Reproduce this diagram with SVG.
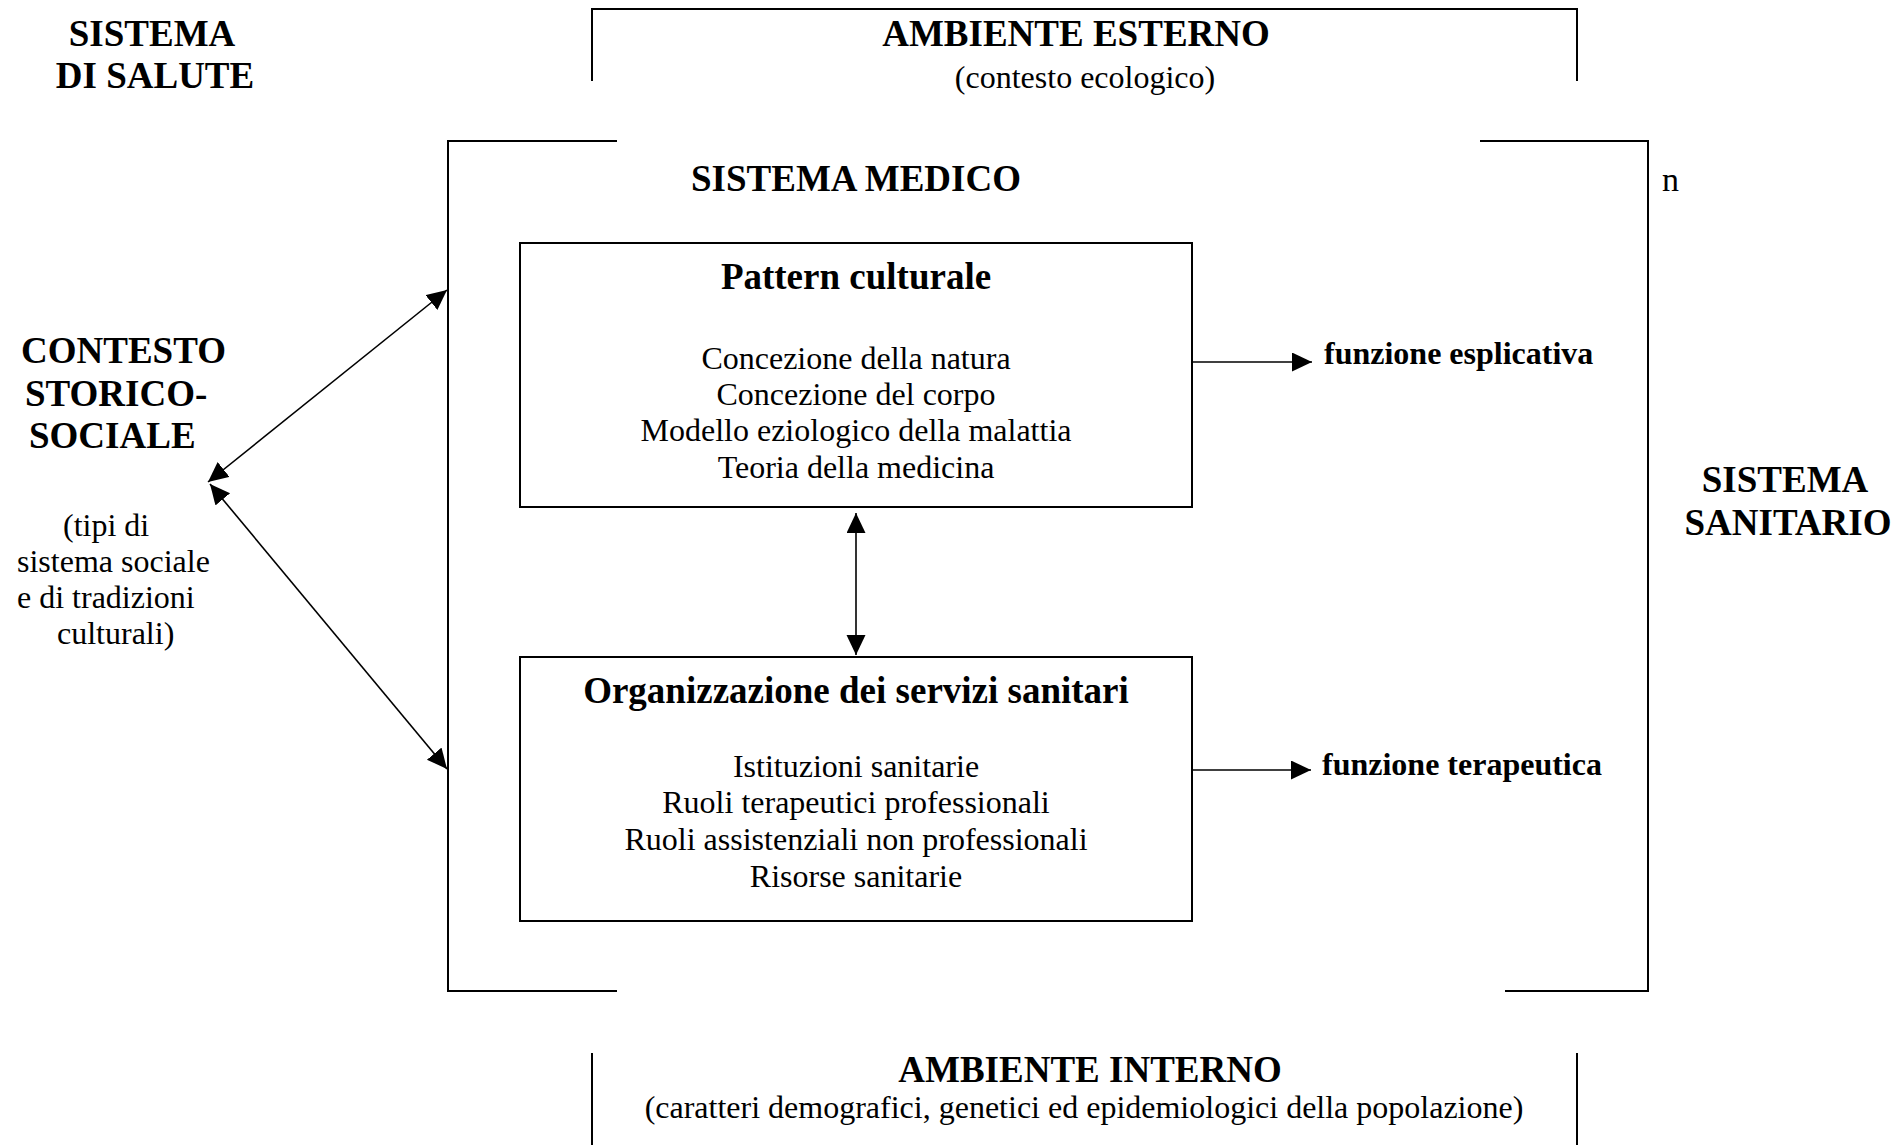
<svg xmlns="http://www.w3.org/2000/svg" width="1898" height="1145" viewBox="0 0 1898 1145">
<style>
text{font-family:"Liberation Serif","Times New Roman",serif;fill:#000}
.b{font-weight:bold;font-size:37px}
.r{font-size:32px}
.fb{font-weight:bold;font-size:32px}
.m{text-anchor:middle}
.frame{fill:none;stroke:#000;stroke-width:2}
.box{fill:#fff;stroke:#000;stroke-width:2}
.con{fill:none;stroke:#000;stroke-width:1.6}
</style>
<defs>
<marker id="ah" markerUnits="userSpaceOnUse" markerWidth="21" markerHeight="20" viewBox="0 0 21 20" refX="20" refY="9.5" orient="auto-start-reverse">
<path d="M0,0 L20,9.5 L0,19 z" fill="#000"/>
</marker>
</defs>
<rect width="1898" height="1145" fill="#fff"/>
<g id="sistema-salute">
<text class="b m" x="152" y="46">SISTEMA</text>
<text class="b m" x="155" y="88">DI SALUTE</text>
</g>
<g id="ambiente-esterno">
<path class="frame" d="M592,81 V9 H1577 V81"/>
<text class="b m" x="1076" y="46">AMBIENTE ESTERNO</text>
<text class="r m" x="1085" y="88">(contesto ecologico)</text>
</g>
<g id="sistema-sanitario-frame">
<path class="frame" d="M617,141 H448 V991 H617"/>
<path class="frame" d="M1480,141 H1648 V991 H1505"/>
<text class="r" x="1662" y="191" style="font-size:34px">n</text>
</g>
<g id="sistema-medico">
<text class="b m" x="856" y="191">SISTEMA MEDICO</text>
</g>
<g id="contesto">
<text class="b" x="21" y="363">CONTESTO</text>
<text class="b" x="25" y="406">STORICO-</text>
<text class="b" x="29" y="448">SOCIALE</text>
<text class="r" x="63" y="536">(tipi di</text>
<text class="r" x="17" y="572">sistema sociale</text>
<text class="r" x="17" y="608">e di tradizioni</text>
<text class="r" x="57" y="644">culturali)</text>
</g>
<g id="pattern-culturale">
<rect class="box" x="520" y="243" width="672" height="264"/>
<text class="b m" x="856" y="289">Pattern culturale</text>
<text class="r m" x="856" y="369">Concezione della natura</text>
<text class="r m" x="856" y="405">Concezione del corpo</text>
<text class="r m" x="856" y="441">Modello eziologico della malattia</text>
<text class="r m" x="856" y="478">Teoria della medicina</text>
</g>
<g id="organizzazione">
<rect class="box" x="520" y="657" width="672" height="264"/>
<text class="b m" x="856" y="703">Organizzazione dei servizi sanitari</text>
<text class="r m" x="856" y="777">Istituzioni sanitarie</text>
<text class="r m" x="856" y="813">Ruoli terapeutici professionali</text>
<text class="r m" x="856" y="850">Ruoli assistenziali non professionali</text>
<text class="r m" x="856" y="887">Risorse sanitarie</text>
</g>
<g id="funzione-esplicativa">
<text class="fb" x="1324" y="364">funzione esplicativa</text>
</g>
<g id="funzione-terapeutica">
<text class="fb" x="1322" y="775">funzione terapeutica</text>
</g>
<g id="sistema-sanitario">
<text class="b m" x="1785" y="492">SISTEMA</text>
<text class="b m" x="1788" y="535">SANITARIO</text>
</g>
<g id="ambiente-interno">
<path class="frame" d="M592,1053 V1145 M1577,1053 V1145"/>
<text class="b m" x="1090" y="1082">AMBIENTE INTERNO</text>
<text class="r m" x="1084" y="1118">(caratteri demografici, genetici ed epidemiologici della popolazione)</text>
</g>
<g id="connectors">
<line class="con" x1="856" y1="513" x2="856" y2="655" marker-start="url(#ah)" marker-end="url(#ah)"/>
<line class="con" x1="208" y1="482" x2="447" y2="290" marker-start="url(#ah)" marker-end="url(#ah)"/>
<line class="con" x1="210" y1="484" x2="447" y2="769" marker-start="url(#ah)" marker-end="url(#ah)"/>
<line class="con" x1="1192" y1="362" x2="1312" y2="362" marker-end="url(#ah)"/>
<line class="con" x1="1192" y1="770" x2="1311" y2="770" marker-end="url(#ah)"/>
</g>
</svg>
